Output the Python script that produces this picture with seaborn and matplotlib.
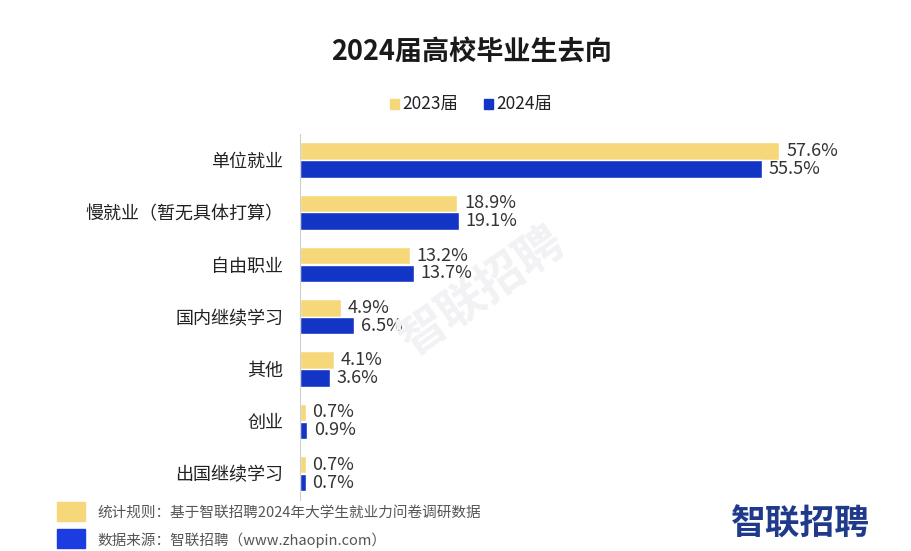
import pandas as pd
import seaborn as sns
import matplotlib.pyplot as plt
from matplotlib.patches import Rectangle

categories = ['单位就业', '慢就业（暂无具体打算）', '自由职业', '国内继续学习', '其他', '创业', '出国继续学习']
v2023 = [57.6, 18.9, 13.2, 4.9, 4.1, 0.7, 0.7]
v2024 = [55.5, 19.1, 13.7, 6.5, 3.6, 0.9, 0.7]
years = ['2023届', '2024届']
colors = ['#F6D87A', '#1335C6']

df = pd.DataFrame({
    'cat': categories * 2,
    'val': v2023 + v2024,
    'year': [years[0]] * len(categories) + [years[1]] * len(categories),
})

sns.set_style('white')
plt.rcParams['font.family'] = ['Noto Sans CJK SC', 'DejaVu Sans']

fig = plt.figure(figsize=(9.11, 5.51), dpi=100)

# watermark
fig.text(0.53, 0.47, '智联招聘', rotation=35, fontsize=34, fontweight='bold',
         color='#f2f2f5', ha='center', va='center', zorder=0)

ax = fig.add_axes([0.329, 0.093, 0.64, 0.664])
ax.patch.set_alpha(0)

sns.barplot(data=df, y='cat', x='val', hue='year', orient='h',
            palette=colors, saturation=1, width=0.68, gap=0.02, ax=ax, legend=False)

for cont in ax.containers:
    ax.bar_label(cont, labels=[f'{v:.1f}%' for v in cont.datavalues],
                 padding=5, fontsize=13, color='#333333')

ax.set_xlim(0, 70)
ax.set_xlabel('')
ax.set_ylabel('')
ax.set_xticks([])
ax.tick_params(axis='y', length=0, pad=12, labelsize=13, labelcolor='#222222')
for s in ['top', 'right', 'bottom']:
    ax.spines[s].set_visible(False)
ax.spines['left'].set_color('#d0d0d0')

# title and legend
fig.text(0.518, 0.905, '2024届高校毕业生去向', ha='center', va='center',
         fontsize=19.5, fontweight='bold', color='#1a1a1a')
fig.patches.append(Rectangle((0.428, 0.803), 0.010, 0.018, color=colors[0], transform=fig.transFigure))
fig.text(0.442, 0.812, years[0], ha='left', va='center', fontsize=12.5, color='#222222')
fig.patches.append(Rectangle((0.531, 0.803), 0.010, 0.018, color=colors[1], transform=fig.transFigure))
fig.text(0.545, 0.812, years[1], ha='left', va='center', fontsize=12.5, color='#222222')

# footer notes
fig.patches.append(Rectangle((0.063, 0.055), 0.030, 0.034, color=colors[0], transform=fig.transFigure))
fig.text(0.107, 0.069, '统计规则：基于智联招聘2024年大学生就业力问卷调研数据', ha='left', va='center',
         fontsize=10.5, color='#555555')
fig.patches.append(Rectangle((0.063, 0.006), 0.030, 0.034, color='#1a3ce0', transform=fig.transFigure))
fig.text(0.107, 0.020, '数据来源：智联招聘（www.zhaopin.com）', ha='left', va='center',
         fontsize=10.5, color='#555555')
fig.text(0.879, 0.048, '智联招聘', ha='center', va='center', fontsize=25,
         fontweight='bold', color='#1f3a8a')

fig.savefig('out.png', dpi=100)
